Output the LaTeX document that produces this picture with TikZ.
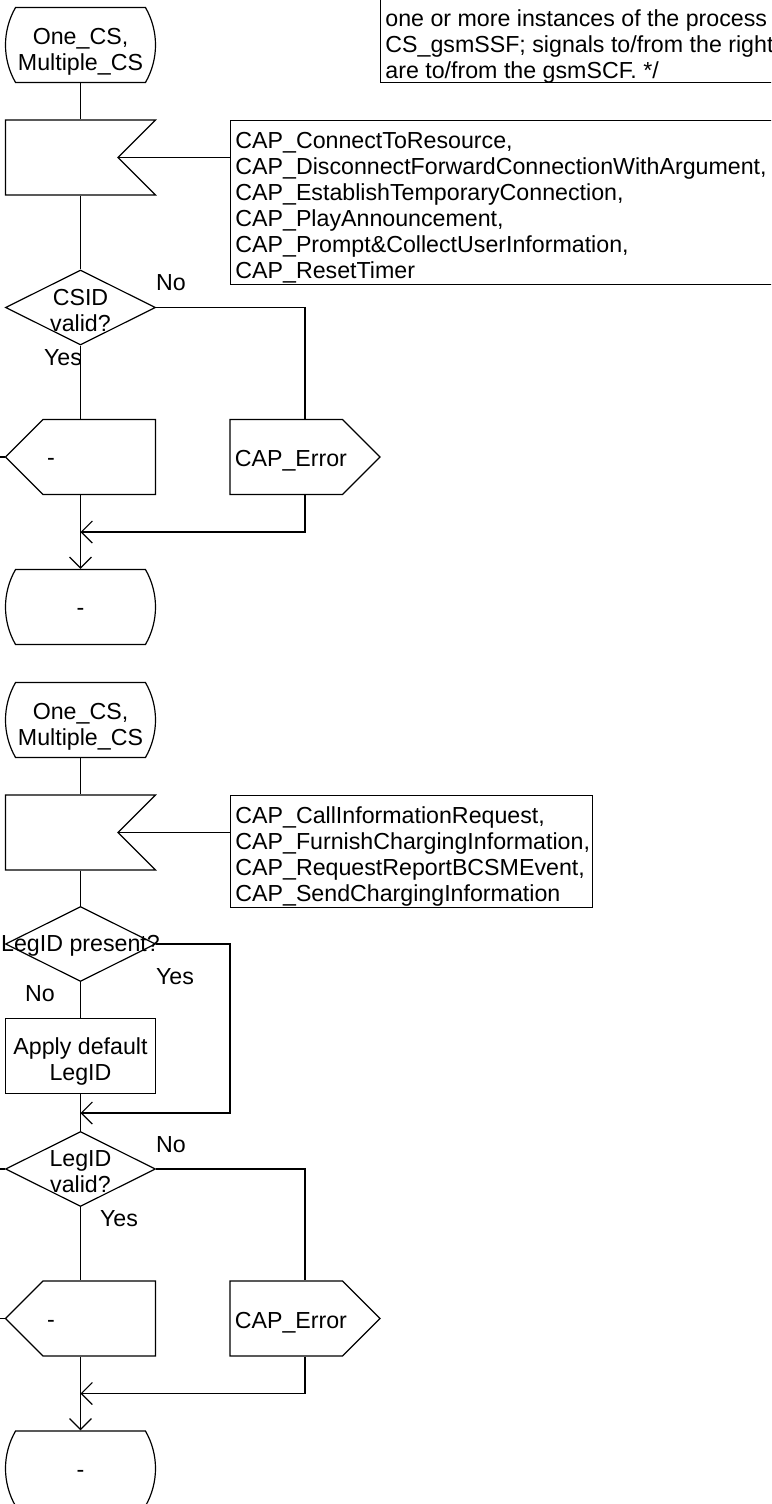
\documentclass[tikz,border=0pt]{standalone}
\usepackage{fontspec}
\setmainfont{Liberation Sans}
\usetikzlibrary{shapes.geometric,shapes.symbols,shapes.misc,arrows.meta}

\tikzset{
  sdl/.style={draw, line width=0.6pt, inner sep=0pt, minimum width=75pt, minimum height=37.5pt},
  startbox/.style={sdl, rounded rectangle, rounded rectangle arc length=60},
  inbox/.style={sdl, signal, signal to=nowhere, signal from=east, signal pointer angle=90},
  outleft/.style={sdl, signal, signal to=west, signal pointer angle=90},
  outright/.style={sdl, signal, signal to=east, signal pointer angle=90},
  decbox/.style={sdl, diamond, aspect=2},
  taskbox/.style={sdl, rectangle},
  inner/.style={align=center, yshift=#1},
  notebox/.style={draw, line width=0.6pt, anchor=north west, inner sep=0pt},
  notetext/.style={align=left, inner xsep=2.5pt, inner ysep=5.8pt},
  flow/.style={line width=0.6pt},
  merge/.style={flow, -{Straight Barb[length=5.5pt,width=11pt]}}
}

\begin{document}
\begin{tikzpicture}[x=0.5pt,y=-0.5pt,font=\fontsize{11.6pt}{13pt}\selectfont]
\useasboundingbox (0,0) rectangle (771,1504);
\clip (0,0) rectangle (771,1504);

% comment box, cut by the top edge
\node[notebox, anchor=south west, minimum width=210pt, minimum height=60pt,
  label={[notetext, anchor=south west, inner ysep=2.5pt, yshift=-3pt]south west:one or more instances of the process\\CS\_gsmSSF; signals to/from the right\\are to/from the gsmSCF. */}] (nt0) at (380,83) {};

% start, input and signal list of the two parts
\foreach \i/\oy/\w/\h/\sigs in {1/0/280pt/82pt/{CAP\_ConnectToResource,\\CAP\_DisconnectForwardConnectionWithArgument,\\CAP\_EstablishTemporaryConnection,\\CAP\_PlayAnnouncement,\\CAP\_Prompt\&CollectUserInformation,\\CAP\_ResetTimer},
    2/675/181pt/56pt/{CAP\_CallInformationRequest,\\CAP\_FurnishChargingInformation,\\CAP\_RequestReportBCSMEvent,\\CAP\_SendChargingInformation}}{
  \node[startbox, label={[inner=-3.5pt]center:One\_CS,\\Multiple\_CS}] (st\i) at (80.5,45+\oy) {};
  \node[inbox] (in\i) at (61.75,157.5+\oy) {};
  \node[notebox, minimum width=\w, minimum height=\h,
    label={[notetext, anchor=north west]north west:\sigs}] (nt\i) at (230,120+\oy) {};
  \draw[flow] (st\i) -- (st\i |- in\i.north);
  \draw[flow] (in\i.east) -- (in\i.east -| nt\i.west);
}

% LegID check of the second part
\node[decbox, label={[inner=-1pt]center:LegID present?}] (pres) at (80.5,944) {};
\node[taskbox, label={[inner=-2.5pt]center:Apply default\\LegID}] (deflt) at (80.5,1056) {};
\coordinate (jn0) at (80.5,1113);
\node (yes0) at (175,977) {Yes};
\node (no0) at (40,994) {No};
\draw[flow] (pres |- in2.south) -- (pres);
\draw[flow] (pres) -- (deflt);
\draw[merge] (pres.east) -- (pres.east -| nt2.west) |- (jn0);

% decision, outputs and end state of the two parts
\foreach \i/\oy/\q/\yx/\yy in {1/0/{CSID\\valid?}/63/358, 2/861.5/{LegID\\valid?}/119/1219}{
  \node[decbox, label={[inner=-1.5pt]center:\q}] (dec\i) at (80.5,307.5+\oy) {};
  \node[outleft, label={[inner=-2.5pt, xshift=-24.1pt]center:-}] (out\i) at (99.25,457+\oy) {};
  \node[outright, label={[anchor=west, inner sep=0pt, xshift=2.5pt, yshift=-2pt]west:CAP\_Error}] (err\i) at (286.25,457+\oy) {};
  \node[startbox, label={[inner=-2.5pt]center:-}] (end\i) at (80.5,607+\oy) {};
  \coordinate (jn\i) at (80.5,532+\oy);
  \coordinate (lft\i) at (-10,457+\oy);
  \node (no\i) at (171,283+\oy) {No};
  \node (yes\i) at (\yx,\yy) {Yes};
  \draw[flow] (dec\i) -- (dec\i |- out\i.north);
  \draw[flow] (dec\i.east) -| ([xshift=9.375pt]err\i.north);
  \draw[flow] (out\i.west) -- (lft\i);
  \draw[merge] (dec\i |- out\i.south) -- (end\i);
  \draw[merge] ([xshift=9.375pt]err\i.south) |- (jn\i);
}
\coordinate (lft0) at (-10,1169);
\draw[flow] (dec1 |- in1.south) -- (dec1);
\draw[flow] (deflt) -- (dec2);
\draw[flow] (dec2.west) -- (lft0);
\end{tikzpicture}
\end{document}
